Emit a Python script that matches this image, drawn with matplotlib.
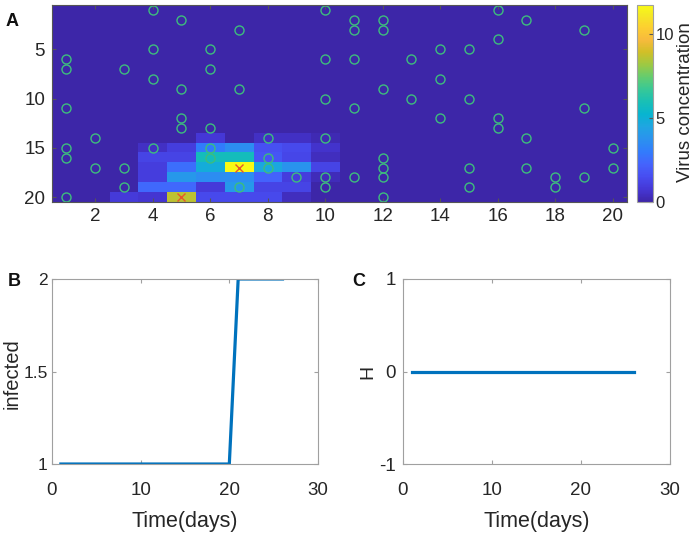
import numpy as np
import matplotlib
matplotlib.use('Agg')
from matplotlib import pyplot as plt
from matplotlib.colors import LinearSegmentedColormap

# ---- data ----
grid_n = 20
# virus concentration, rows 14..20 (cols 1..20); all other rows are zero
conc_row14 = [0, 0, 0, 0, 0, 0.8, 0, 0.5, 0.5, 0.2, 0, 0, 0, 0, 0, 0, 0, 0, 0, 0]
conc_row15 = [0, 0, 0, 0.5, 1.0, 3.0, 3.6, 1.6, 1.4, 0.6, 0, 0, 0, 0, 0, 0, 0, 0, 0, 0]
conc_row16 = [0, 0, 0, 1.2, 1.2, 5.8, 5.8, 1.8, 1.3, 0.4, 0, 0, 0, 0, 0, 0, 0, 0, 0, 0]
conc_row17 = [0, 0, 0, 1.0, 2.6, 4.8, 11.7, 4.6, 3.8, 1.2, 0, 0, 0, 0, 0, 0, 0, 0, 0, 0]
conc_row18 = [0, 0, 0, 1.0, 4.0, 3.6, 3.6, 2.2, 1.0, 0.3, 0, 0, 0, 0, 0, 0, 0, 0, 0, 0]
conc_row19 = [0, 0, 0, 2.4, 2.4, 0.9, 4.0, 1.2, 1.2, 0, 0, 0, 0, 0, 0, 0, 0, 0, 0, 0]
conc_row20 = [0, 0, 0.9, 0.7, 8.6, 1.4, 1.4, 1.4, 0.4, 0, 0, 0, 0, 0, 0, 0, 0, 0, 0, 0]

# healthy cells (circles): column, row
healthy_x = [4, 5, 7, 10, 1, 1, 3, 4, 4, 6, 6, 5, 7, 10, 10, 1, 5, 5, 6, 2, 8, 10,
             1, 1, 4, 6, 6, 8, 2, 3, 8, 9, 10, 10, 3, 7, 1,
             11, 11, 12, 12, 16, 17, 19, 16, 14, 15, 11, 13, 14, 12, 13, 15, 11,
             19, 14, 16, 16, 17, 20, 12, 12, 12, 11, 15, 17, 20, 18, 18, 19, 15, 12]
healthy_y = [1, 2, 3, 1, 6, 7, 7, 5, 8, 5, 7, 9, 9, 6, 10, 11, 12, 13, 13, 14, 14, 14,
             15, 16, 15, 15, 16, 16, 17, 17, 17, 18, 18, 19, 19, 19, 20,
             2, 3, 2, 3, 1, 2, 3, 4, 5, 5, 6, 6, 8, 9, 10, 10, 11,
             11, 12, 12, 13, 14, 15, 16, 17, 18, 18, 17, 17, 17, 18, 19, 18, 19, 20]
# infected cells (crosses)
infected_x = [7, 5]
infected_y = [17, 20]

# time series
days = list(range(1, 27))
infected = [1] * 20 + [2] * 6
H = [0] * 26

# ---- style ----
# MATLAB parula (R2014b), entries 1,5,9,...,61,64 of the 64-colour table
parula_idx = [1, 5, 9, 13, 17, 21, 25, 29, 33, 37, 41, 45, 49, 53, 57, 61, 64]
parula_rgb = [(0.2422, 0.1504, 0.6603), (0.2706, 0.2147, 0.8364), (0.2813, 0.3006, 0.9414),
              (0.2699, 0.3892, 0.9906), (0.1963, 0.4847, 0.9892), (0.1687, 0.5703, 0.9359),
              (0.1248, 0.6459, 0.8883), (0.0297, 0.7082, 0.8163), (0.0964, 0.7500, 0.7120),
              (0.2161, 0.7843, 0.5923), (0.3909, 0.8029, 0.4354), (0.6174, 0.7876, 0.2612),
              (0.8203, 0.7498, 0.1535), (0.9728, 0.7298, 0.2394), (0.9892, 0.8136, 0.1885),
              (0.9597, 0.9135, 0.1423), (0.9769, 0.9839, 0.0805)]
parula = LinearSegmentedColormap.from_list(
    'parula', [((i - 1) / 63, c) for i, c in zip(parula_idx, parula_rgb)])

plt.rcParams['font.family'] = ['Liberation Sans', 'DejaVu Sans']
plt.rcParams['font.size'] = 13.5
line_blue = (0, 0.447, 0.741)
box_grey = '#a0a0a0'
text_col = '#262626'

fig = plt.figure(figsize=(6.97, 5.41), dpi=100)

# ---- panel A ----
conc = np.zeros((grid_n, grid_n))
conc[13:20] = np.array([conc_row14, conc_row15, conc_row16, conc_row17,
                        conc_row18, conc_row19, conc_row20])

ax = fig.add_axes([0.0746, 0.6266, 0.825, 0.3642])
im = ax.imshow(conc, cmap=parula, vmin=0, vmax=11.7, aspect='auto',
               interpolation='nearest', extent=(0.5, 20.5, 20.5, 0.5))
ax.plot(healthy_x, healthy_y, 'o', mfc='none', mec='#3dbd7d', ms=6.5, mew=1)
ax.plot(infected_x, infected_y, 'x', color='#e8572a', ms=6, mew=1)
ax.set_xlim(0.5, 20.5)
ax.set_ylim(20.5, 0.5)
ax.set_xticks(range(2, 21, 2))
ax.set_yticks([5, 10, 15, 20])
ax.tick_params(direction='in', length=3, color='#555555', labelcolor=text_col,
               top=True, right=True)
ax.tick_params(axis='x', pad=4)
ax.tick_params(axis='y', pad=5)
for s in ax.spines.values():
    s.set_color('#555555')
    s.set_linewidth(0.8)

cax = fig.add_axes([0.914, 0.6266, 0.023, 0.3642])
cb = fig.colorbar(im, cax=cax)
cb.set_ticks([0, 5, 10])
cax.tick_params(direction='in', length=3, color='#555555', labelcolor=text_col,
                pad=2, labelsize=12)
cb.outline.set_edgecolor(box_grey)
fig.text(0.984, 0.811, 'Virus concentration', rotation=90, size=13.5,
         ha='center', va='center', color=text_col)

fig.text(0.017, 0.96, 'A', weight='bold', size=13,
         ha='center', va='center', color='#111111')


def line_panel(rect, y, ylim, yticks, yticklabels):
    a = fig.add_axes(rect)
    a.plot(days, y, color=line_blue, lw=2.3)
    a.set_xlim(0, 30)
    a.set_ylim(*ylim)
    a.set_xticks([0, 10, 20, 30])
    a.set_yticks(yticks)
    a.set_yticklabels(yticklabels)
    a.tick_params(direction='in', length=3, color=box_grey, labelcolor=text_col,
                  top=True, right=True)
    a.tick_params(axis='x', pad=13)
    a.tick_params(axis='y', pad=5)
    for s in a.spines.values():
        s.set_color(box_grey)
        s.set_linewidth(0.8)
    a.set_xlabel('Time(days)', size=15.5, color=text_col)
    a.xaxis.set_label_coords(0.5, -0.255)
    return a


axb = line_panel([0.0746, 0.1423, 0.3816, 0.342], infected, (1, 2),
                 [1, 1.5, 2], ['1', '1.5', '2'])
axb.tick_params(axis='y', pad=3, labelsize=12.5)
fig.text(0.018, 0.31, 'infected', rotation=90, size=14.5,
         ha='center', va='center', color=text_col)
fig.text(0.02, 0.48, 'B', weight='bold', size=13,
         ha='center', va='center', color='#111111')

axc = line_panel([0.578, 0.1423, 0.383, 0.342], H, (-1, 1),
                 [-1, 0, 1], ['-1', '0', '1'])
fig.text(0.528, 0.312, 'H', rotation=90, size=14,
         ha='center', va='center', color=text_col)
fig.text(0.515, 0.48, 'C', weight='bold', size=13,
         ha='center', va='center', color='#111111')

fig.savefig('out.png', dpi=100)
